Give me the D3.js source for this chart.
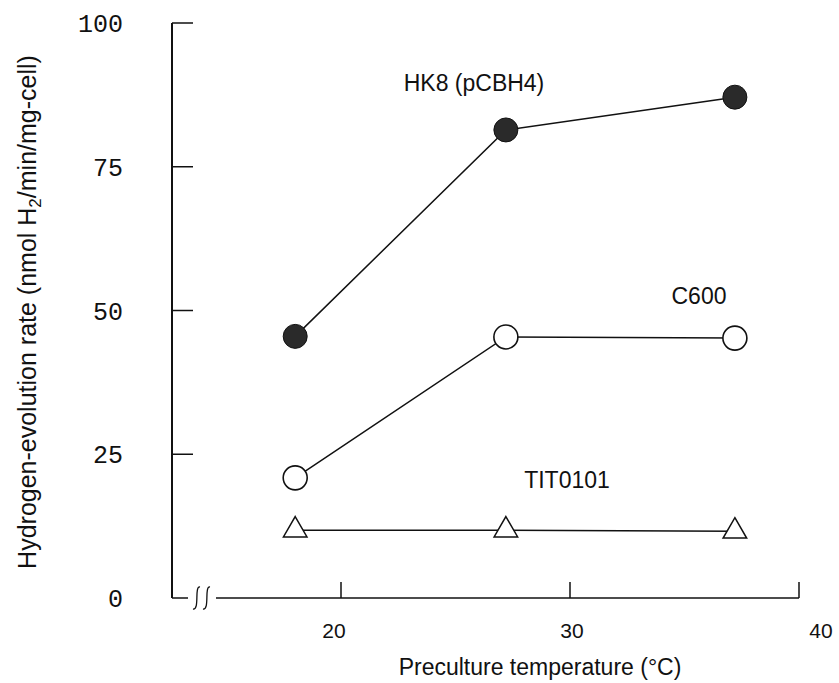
<!DOCTYPE html>
<html>
<head>
<meta charset="utf-8">
<script src="https://cdn.jsdelivr.net/npm/d3@7"></script>
<style>
  body { margin: 0; background: #fff; }
  text { font-family: "Liberation Sans", Arial, sans-serif; fill: #111; }
</style>
</head>
<body>
<div id="chart"></div>
<script>
// data
const temps = [18, 27.2, 37.2];
const hk8 = [45.5, 81.4, 87.1];
const c600 = [20.9, 45.4, 45.2];
const tit0101 = [11.8, 11.8, 11.6];
const yTicks = [0, 25, 50, 75, 100];
const xTicks = [20, 30, 40];

const width = 839, height = 683;

const svg = d3.select("#chart")
    .append("svg")
    .attr("width", width)
    .attr("height", height);

const x = d3.scaleLinear().domain([20, 40]).range([341, 799]);
const y = d3.scaleLinear().domain([0, 100]).range([598, 23]);
const axisX = 172;

const ink = "#111";

// y axis: vertical line, top stub, ticks pointing inward
svg.append("line")
    .attr("x1", axisX).attr("x2", axisX)
    .attr("y1", y(100)).attr("y2", y(0))
    .attr("stroke", ink).attr("stroke-width", 2);

svg.selectAll(".ytick")
    .data(yTicks.filter(d => d > 0))
    .enter().append("line")
    .attr("class", "ytick")
    .attr("x1", axisX).attr("x2", axisX + 21)
    .attr("y1", d => y(d)).attr("y2", d => y(d))
    .attr("stroke", ink).attr("stroke-width", 1.5);

svg.selectAll(".ylab")
    .data(yTicks)
    .enter().append("text")
    .attr("class", "ylab")
    .attr("x", 123)
    .attr("y", d => y(d))
    .attr("dy", "0.36em")
    .attr("text-anchor", "end")
    .style("font-family", "'Liberation Mono', 'DejaVu Sans Mono', monospace")
    .style("font-size", "25px")
    .text(d => d);

// x axis with break
const yBase = y(0);
svg.append("line")
    .attr("x1", axisX).attr("x2", 188)
    .attr("y1", yBase).attr("y2", yBase)
    .attr("stroke", ink).attr("stroke-width", 1.5);

svg.append("line")
    .attr("x1", 216).attr("x2", x(40))
    .attr("y1", yBase).attr("y2", yBase)
    .attr("stroke", ink).attr("stroke-width", 1.5);

// break squiggles
[196, 206].forEach(function(cx) {
    svg.append("path")
        .attr("d", "M" + (cx + 4) + "," + (yBase - 11) +
            " C" + (cx - 2) + "," + (yBase - 12) + " " + (cx + 4) + "," + (yBase + 12) + " " + (cx - 3) + "," + (yBase + 11))
        .attr("fill", "none")
        .attr("stroke", ink)
        .attr("stroke-width", 1.3);
});

svg.selectAll(".xtick")
    .data(xTicks)
    .enter().append("line")
    .attr("class", "xtick")
    .attr("x1", d => x(d)).attr("x2", d => x(d))
    .attr("y1", yBase).attr("y2", yBase - 16)
    .attr("stroke", ink).attr("stroke-width", 1.5);

svg.selectAll(".xlab")
    .data(xTicks)
    .enter().append("text")
    .attr("class", "xlab")
    .attr("x", d => x(d) + (d === 40 ? 22 : (d === 20 ? -7 : 2)))
    .attr("y", 638)
    .attr("text-anchor", "middle")
    .style("font-size", "21px")
    .text(d => d);

// axis titles
svg.append("text")
    .attr("x", 540)
    .attr("y", 675)
    .attr("text-anchor", "middle")
    .style("font-size", "23px")
    .text("Preculture temperature (°C)");

const ytitle = svg.append("text")
    .attr("transform", "translate(36,312) rotate(-90)")
    .attr("text-anchor", "middle")
    .style("font-size", "25px");
ytitle.append("tspan").text("Hydrogen-evolution rate (nmol H");
ytitle.append("tspan").attr("dy", 5).style("font-size", "17px").text("2");
ytitle.append("tspan").attr("dy", -5).text("/min/mg-cell)");

// series
const line = d3.line()
    .x(d => x(d[0]))
    .y(d => y(d[1]));

function pts(vals) { return temps.map((t, i) => [t, vals[i]]); }

[hk8, c600, tit0101].forEach(function(vals) {
    svg.append("path")
        .datum(pts(vals))
        .attr("d", line)
        .attr("fill", "none")
        .attr("stroke", ink)
        .attr("stroke-width", 1.5);
});

svg.selectAll(".hk8")
    .data(pts(hk8))
    .enter().append("circle")
    .attr("class", "hk8")
    .attr("cx", d => x(d[0])).attr("cy", d => y(d[1]))
    .attr("r", 12)
    .attr("fill", "#2a2a2a")
    .attr("stroke", ink).attr("stroke-width", 1);

svg.selectAll(".c600")
    .data(pts(c600))
    .enter().append("circle")
    .attr("class", "c600")
    .attr("cx", d => x(d[0])).attr("cy", d => y(d[1]))
    .attr("r", 12)
    .attr("fill", "#fff")
    .attr("stroke", ink).attr("stroke-width", 1.6);

const tri = d3.symbol().type(d3.symbolTriangle).size(240);
svg.selectAll(".tit")
    .data(pts(tit0101))
    .enter().append("path")
    .attr("class", "tit")
    .attr("transform", d => "translate(" + x(d[0]) + "," + y(d[1]) + ")")
    .attr("d", tri)
    .attr("fill", "#fff")
    .attr("stroke", ink).attr("stroke-width", 1.5);

// series labels
svg.append("text").attr("x", 474).attr("y", 91).attr("text-anchor", "middle")
    .style("font-size", "23px").text("HK8 (pCBH4)");
svg.append("text").attr("x", 699).attr("y", 304).attr("text-anchor", "middle")
    .style("font-size", "23px").text("C600");
svg.append("text").attr("x", 567).attr("y", 488).attr("text-anchor", "middle")
    .style("font-size", "23px").text("TIT0101");
</script>
</body>
</html>
